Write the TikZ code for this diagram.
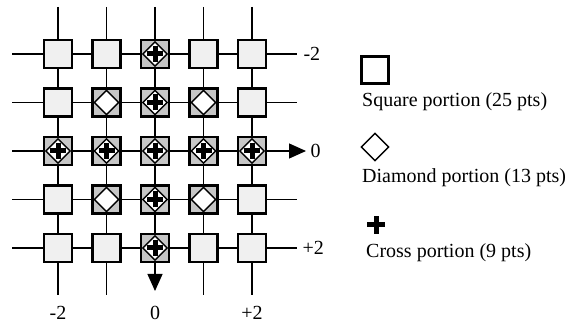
\documentclass[tikz,border=0pt]{standalone}
\usepackage{fontspec}
\setmainfont{Liberation Serif}
\usetikzlibrary{positioning, shapes.geometric, arrows.meta}

\begin{document}
\begin{tikzpicture}[x=1pt, y=-1pt, font=\fontsize{20}{22}\selectfont,
        gridline/.style={line width=1.2pt},
        axisarrow/.style={gridline, -{Triangle[length=17pt, width=15pt]}},
        cell/.style={draw, line width=2.2pt, fill=gray!12, minimum size=28pt, inner sep=0pt},
        dcell/.style={cell, fill=gray!45},
        rhomb/.style={draw, diamond, fill=white, line width=1.4pt, minimum width=25pt, minimum height=25pt, inner sep=0pt},
        plusbar/.style={line width=5pt},
        legendtxt/.style={anchor=base west, inner sep=0pt}]
    \useasboundingbox (0,0) rectangle (576,323);

    % grid lines
    \foreach \i in {-2,...,2} {
        \coordinate (top\i)   at ({155+48.5*\i}, 7);
        \coordinate (bot\i)   at ({155+48.5*\i}, 295);
        \coordinate (left\i)  at (12, {151+48.5*\i});
        \coordinate (right\i) at (297, {151+48.5*\i});
    }
    \foreach \i in {-2,-1,1,2} {
        \draw[gridline] (top\i) -- (bot\i);
        \draw[gridline] (left\i) -- (right\i);
    }
    \draw[axisarrow] (top0) -- ([yshift=4pt]bot0);
    \draw[axisarrow] (left0) -- ([xshift=9pt]right0);

    % cells
    \foreach \i in {-2,...,2} {
        \foreach \j in {-2,...,2} {
            \pgfmathtruncatemacro\dist{abs(\i)+abs(\j)}
            \pgfmathtruncatemacro\onaxis{\i*\j==0 ? 1 : 0}
            \ifnum\dist>2
                \node[cell] (cell\i\j) at ({155+48.5*\i}, {151+48.5*\j}) {};
            \else
                \node[dcell] (cell\i\j) at ({155+48.5*\i}, {151+48.5*\j}) {};
                \node[rhomb] at (cell\i\j.center) {};
                \ifnum\onaxis=1
                    \draw[plusbar] ([xshift=-8pt]cell\i\j.center) -- ([xshift=8pt]cell\i\j.center);
                    \draw[plusbar] ([yshift=-8pt]cell\i\j.center) -- ([yshift=8pt]cell\i\j.center);
                \fi
            \fi
        }
    }

    % axis labels
    \node[right=3pt of right-2]          {-2};
    \node[right=10pt of right0]          {0};
    \node[right=2pt of right2]           {+2};
    \node[below=8pt of bot-2]            {-2};
    \node[below=8pt of bot0]             {0};
    \node[below=8pt of bot2]             {+2};

    % legend
    \node[cell, fill=white, line width=2.5pt, minimum size=27pt]     (sq)     at (375,70) {};
    \node[legendtxt]                                                 (sq txt) at (362,107) {Square portion (25 pts)};
    \node[rhomb, minimum width=28pt, minimum height=28pt]            (dm)     at (375,147) {};
    \node[legendtxt]                                                 (dm txt) at (362,183) {Diamond portion (13 pts)};
    \coordinate (cr) at (376,225);
    \draw[plusbar] ([xshift=-9pt]cr) -- ([xshift=9pt]cr);
    \draw[plusbar] ([yshift=-9pt]cr) -- ([yshift=9pt]cr);
    \node[legendtxt]                                                 (cr txt) at (366,258) {Cross portion (9 pts)};
\end{tikzpicture}
\end{document}
